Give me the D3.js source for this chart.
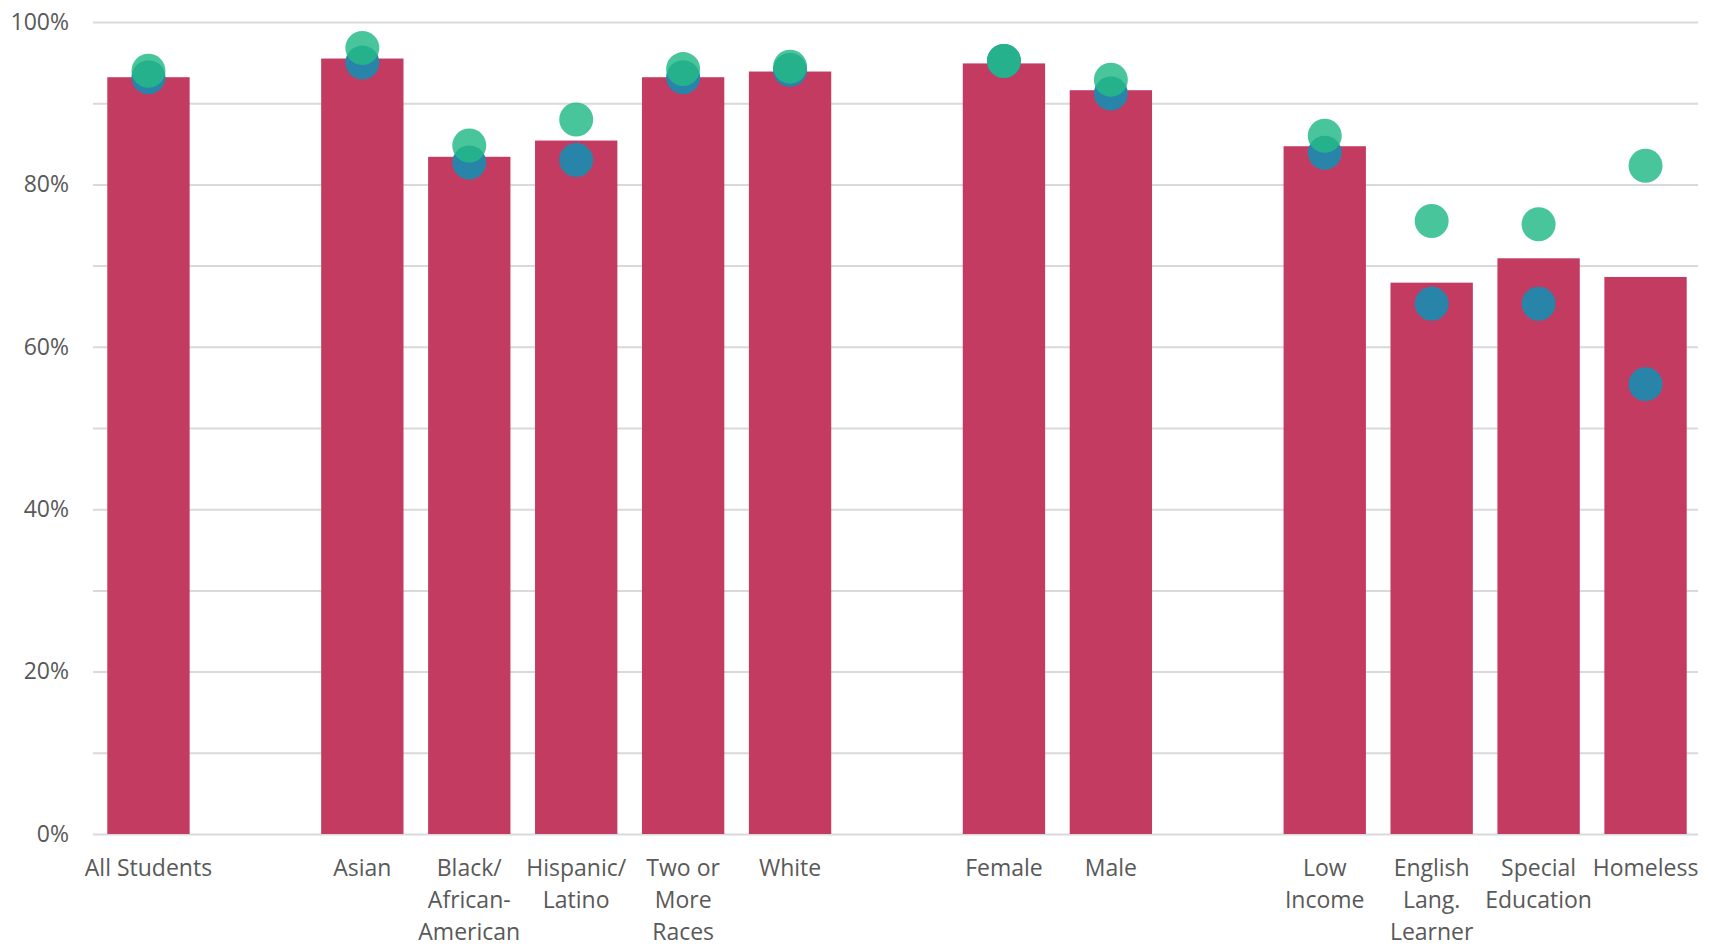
<!DOCTYPE html>
<html>
<head>
<meta charset="utf-8">
<script src="https://cdn.jsdelivr.net/npm/d3@7"></script>
<style>
  html, body { margin: 0; padding: 0; background: #fff; }
  svg { display: block; }
  text { font-family: "Open Sans", sans-serif; fill: #595959; }
</style>
</head>
<body>
<svg id="chart" width="1709" height="948"></svg>
<script>
// ---- data ----
const slots = ["All Students", "gap1", "Asian", "Black/African-American", "Hispanic/Latino", "Two or More Races", "White", "gap2", "Female", "Male", "gap3", "Low Income", "English Lang. Learner", "Special Education", "Homeless"];
const categories = ["All Students", "Asian", "Black/African-American", "Hispanic/Latino", "Two or More Races", "White", "Female", "Male", "Low Income", "English Lang. Learner", "Special Education", "Homeless"];
const labelLines = [["All Students"], ["Asian"], ["Black/", "African-", "American"], ["Hispanic/", "Latino"], ["Two or", "More", "Races"], ["White"], ["Female"], ["Male"], ["Low", "Income"], ["English", "Lang.", "Learner"], ["Special", "Education"], ["Homeless"]];
const barValues   = [93.2, 95.5, 83.4, 85.4, 93.2, 93.9, 94.9, 91.6, 84.7, 67.9, 70.9, 68.6];
const blueValues  = [93.2, 95.0, 82.7, 83.0, 93.2, 94.1, 95.2, 91.2, 83.9, 65.3, 65.3, 55.4];
const greenValues = [94.0, 96.8, 84.8, 88.0, 94.2, 94.5, 95.2, 92.9, 86.0, 75.5, 75.1, 82.3];
const yTicks = [0, 10, 20, 30, 40, 50, 60, 70, 80, 90, 100];

// ---- layout ----
const svg = d3.select("#chart");
const plotLeft = 93, plotRight = 1698, plotTop = 22, plotBottom = 834;

const x = d3.scaleBand().domain(slots).range([95, 1699]).paddingInner(0.23).paddingOuter(0.115);
const y = d3.scaleLinear().domain([0, 100]).range([plotBottom, plotTop]);

// grid + y axis
const yAxis = d3.axisLeft(y)
  .tickValues(yTicks)
  .tickSize(-(plotRight - plotLeft))
  .tickPadding(24)
  .tickFormat(d => d % 20 === 0 ? d + "%" : "");

const gy = svg.append("g").attr("transform", `translate(${plotLeft},0)`).call(yAxis);
gy.select(".domain").remove();
gy.selectAll(".tick line").attr("stroke", "#d9d9d9").attr("stroke-width", 2);
gy.selectAll(".tick text").attr("font-size", 23).attr("fill", "#595959")
  .style("font-family", "'Open Sans', sans-serif");

// bars
svg.append("g").selectAll("rect").data(categories).join("rect")
  .attr("x", d => x(d))
  .attr("width", x.bandwidth())
  .attr("y", (d, i) => y(barValues[i]))
  .attr("height", (d, i) => y(0) - y(barValues[i]))
  .attr("fill", "#c43b62");

// blue dots
const r = 17;
svg.append("g").selectAll("circle").data(categories).join("circle")
  .attr("cx", d => x(d) + x.bandwidth() / 2)
  .attr("cy", (d, i) => y(blueValues[i]))
  .attr("r", r)
  .attr("fill", "#2884a8");

// green dots
svg.append("g").selectAll("circle").data(categories).join("circle")
  .attr("cx", d => x(d) + x.bandwidth() / 2)
  .attr("cy", (d, i) => y(greenValues[i]))
  .attr("r", r)
  .attr("fill", "#26ba88")
  .attr("fill-opacity", 0.84);

// category labels
const lab = svg.append("g").selectAll("text").data(categories).join("text")
  .attr("text-anchor", "middle")
  .attr("font-size", 23)
  .attr("x", d => x(d) + x.bandwidth() / 2)
  .attr("y", 876);
lab.each(function(d, i) {
  const t = d3.select(this);
  labelLines[i].forEach((line, j) => {
    t.append("tspan")
      .attr("x", x(d) + x.bandwidth() / 2)
      .attr("y", 876 + j * 32)
      .text(line);
  });
});
</script>
</body>
</html>
